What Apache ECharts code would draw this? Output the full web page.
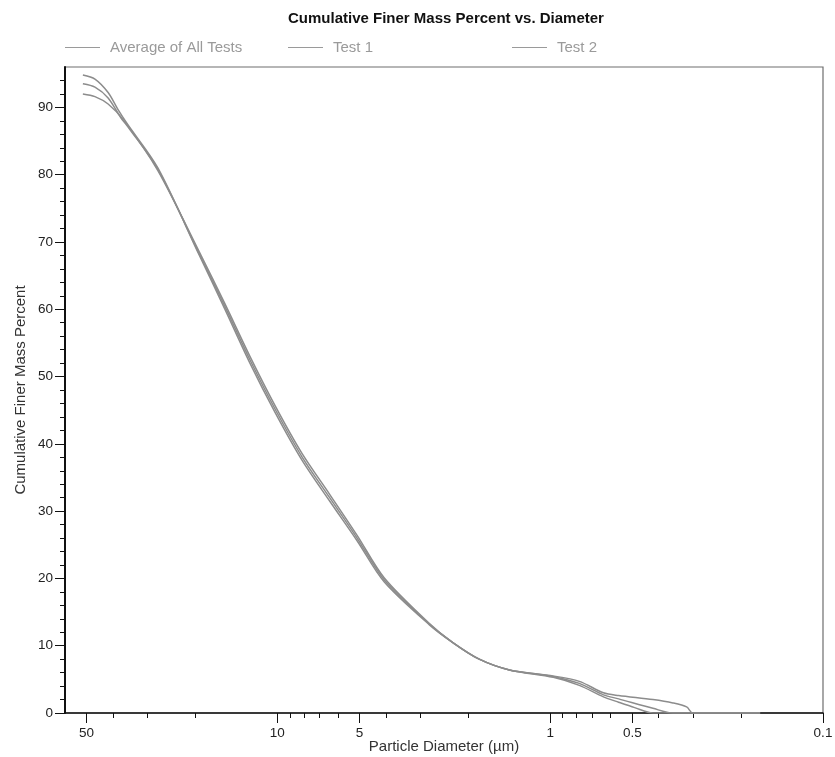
<!DOCTYPE html>
<html>
<head>
<meta charset="utf-8">
<script src="https://cdn.jsdelivr.net/npm/echarts@6/dist/echarts.min.js"></script>
<style>
  html, body { margin: 0; padding: 0; background: #fff; }
  #chart { width: 835px; height: 757px; }
</style>
</head>
<body>
<div id="chart"></div>
<script>
// particle diameter (um) and cumulative finer mass percent
var avgDiam = [51.6, 46.6, 41.7, 37.5, 35.4, 27.4, 19.3, 15.6, 12.6, 10.17, 8.1, 6.43, 5.1, 4.06, 2.77, 2.28, 1.82, 1.41, 0.974, 0.782, 0.638, 0.561, 0.42, 0.355, 0.17];
var avgPct  = [93.5, 93.0, 91.4, 88.5, 87.2, 80.8, 68.2, 60.5, 52.5, 45.1, 38.0, 32.0, 26.0, 19.8, 13.2, 10.5, 8.0, 6.4, 5.4, 4.4, 2.7, 2.1, 0.7, 0, 0];

var test1Diam = [51.6, 46.6, 41.7, 38.4, 35.4, 27.4, 19.3, 15.6, 12.6, 10.17, 8.1, 6.43, 5.1, 4.06, 2.77, 2.28, 1.82, 1.41, 0.974, 0.782, 0.638, 0.561, 0.49, 0.42, 0.17];
var test1Pct  = [94.8, 94.2, 92.2, 89.7, 87.5, 81.0, 68.0, 60.1, 52.0, 44.6, 37.5, 31.5, 25.6, 19.5, 13.1, 10.5, 8.0, 6.4, 5.3, 4.1, 2.4, 1.6, 0.8, 0, 0];

var test2Diam = [51.6, 46.6, 41.7, 36.4, 27.4, 19.3, 15.6, 12.6, 10.17, 8.1, 6.43, 5.1, 4.06, 2.77, 2.28, 1.82, 1.41, 0.974, 0.782, 0.638, 0.561, 0.42, 0.355, 0.316, 0.30, 0.17];
var test2Pct  = [92.0, 91.6, 90.5, 88.0, 80.6, 68.5, 60.9, 53.0, 45.6, 38.5, 32.5, 26.4, 20.1, 13.3, 10.5, 8.0, 6.4, 5.5, 4.7, 3.0, 2.6, 2.0, 1.5, 0.9, 0, 0];

// axis ticks
var xTickLabels = [50, 10, 5, 1, 0.5, 0.1];
var xMinorTicks = [40, 30, 20, 9, 8, 7, 6, 4, 3, 2, 0.9, 0.8, 0.7, 0.6, 0.4, 0.3, 0.2];
var yTickLabels = [0, 10, 20, 30, 40, 50, 60, 70, 80, 90];
var yMinorTicks = [2, 4, 6, 8, 12, 14, 16, 18, 22, 24, 26, 28, 32, 34, 36, 38, 42, 44, 46, 48,
                   52, 54, 56, 58, 62, 64, 66, 68, 72, 74, 76, 78, 82, 84, 86, 88, 92, 94];

var xMin = 0.1, xMax = 60;
var yMin = 0, yMax = 96;

(function () {
  var myChart = echarts.init(document.getElementById('chart'));
  var font = '"Liberation Sans", Arial, Helvetica, sans-serif';
  var lineGray = '#8c8c8c';

  function lg(v) { return Math.log10(v); }
  function pairs(d, p) {
    return d.map(function (v, i) { return [lg(v), p[i]]; });
  }
  function fmtX(v) {
    return String(+Math.pow(10, v).toPrecision(2));
  }

  var xBase = {
    type: 'value',
    position: 'bottom',
    inverse: true,
    min: lg(xMin),
    max: lg(xMax),
    splitLine: { show: false }
  };
  var yBase = {
    type: 'value',
    position: 'left',
    min: yMin,
    max: yMax,
    interval: 10,
    splitLine: { show: false }
  };

  function lineSeries(name, d, p) {
    return {
      name: name,
      type: 'line',
      data: pairs(d, p),
      showSymbol: false,
      smooth: 0.3,
      lineStyle: { color: lineGray, width: 1.5 },
      itemStyle: { color: '#9a9a9a' }
    };
  }

  function legendAt(name, left) {
    return {
      data: [name],
      left: left,
      top: 35,
      icon: 'rect',
      itemWidth: 35,
      itemHeight: 1,
      selectedMode: false,
      textStyle: { color: '#9a9a9a', fontSize: 15, fontFamily: font, padding: [0, 0, 0, 5] }
    };
  }

  var option = {
    animation: false,
    backgroundColor: '#fff',
    title: {
      text: 'Cumulative Finer Mass Percent vs. Diameter',
      left: 283,
      top: 6,
      textStyle: { fontSize: 15, fontWeight: 'bold', color: '#111', fontFamily: font }
    },
    legend: [
      legendAt('Average of All Tests', 60),
      legendAt('Test 1', 283),
      legendAt('Test 2', 507)
    ],
    grid: {
      left: 65,
      right: 12,
      top: 67,
      bottom: 44,
      show: true,
      borderColor: '#6e6e6e',
      borderWidth: 1.2,
      outerBoundsMode: 'none'
    },
    xAxis: [
      Object.assign({}, xBase, {
        name: 'Particle Diameter (µm)',
        nameLocation: 'middle',
        nameGap: 26,
        nameMoveOverlap: false,
        nameTextStyle: { fontSize: 15, color: '#333', fontFamily: font },
        axisLine: { show: true, onZero: false, lineStyle: { color: '#111', width: 1.5 } },
        axisTick: { show: true, length: 10, customValues: xTickLabels.map(lg), lineStyle: { color: '#111' } },
        axisLabel: {
          margin: 13,
          fontSize: 13.5,
          color: '#222',
          fontFamily: font,
          customValues: xTickLabels.map(lg),
          formatter: fmtX
        }
      }),
      Object.assign({}, xBase, {
        axisLine: { show: false, onZero: false },
        axisTick: { show: true, length: 5, customValues: xMinorTicks.map(lg), lineStyle: { color: '#111' } },
        axisLabel: { show: false }
      })
    ],
    yAxis: [
      Object.assign({}, yBase, {
        name: 'Cumulative Finer Mass Percent',
        nameLocation: 'middle',
        nameGap: 37,
        nameMoveOverlap: false,
        nameTextStyle: { fontSize: 15, color: '#333', fontFamily: font },
        axisLine: { show: true, onZero: false, lineStyle: { color: '#111', width: 2 } },
        axisTick: { show: true, length: 10, customValues: yTickLabels, lineStyle: { color: '#111' } },
        axisLabel: { margin: 12, fontSize: 13.5, color: '#222', fontFamily: font, customValues: yTickLabels }
      }),
      Object.assign({}, yBase, {
        axisLine: { show: false, onZero: false },
        axisTick: { show: true, length: 5, customValues: yMinorTicks, lineStyle: { color: '#111' } },
        axisLabel: { show: false }
      })
    ],
    series: [
      lineSeries('Average of All Tests', avgDiam, avgPct),
      lineSeries('Test 1', test1Diam, test1Pct),
      lineSeries('Test 2', test2Diam, test2Pct)
    ]
  };

  myChart.setOption(option);
  window.addEventListener('resize', function () {
    myChart.resize();
  });
})();
</script>
</body>
</html>
